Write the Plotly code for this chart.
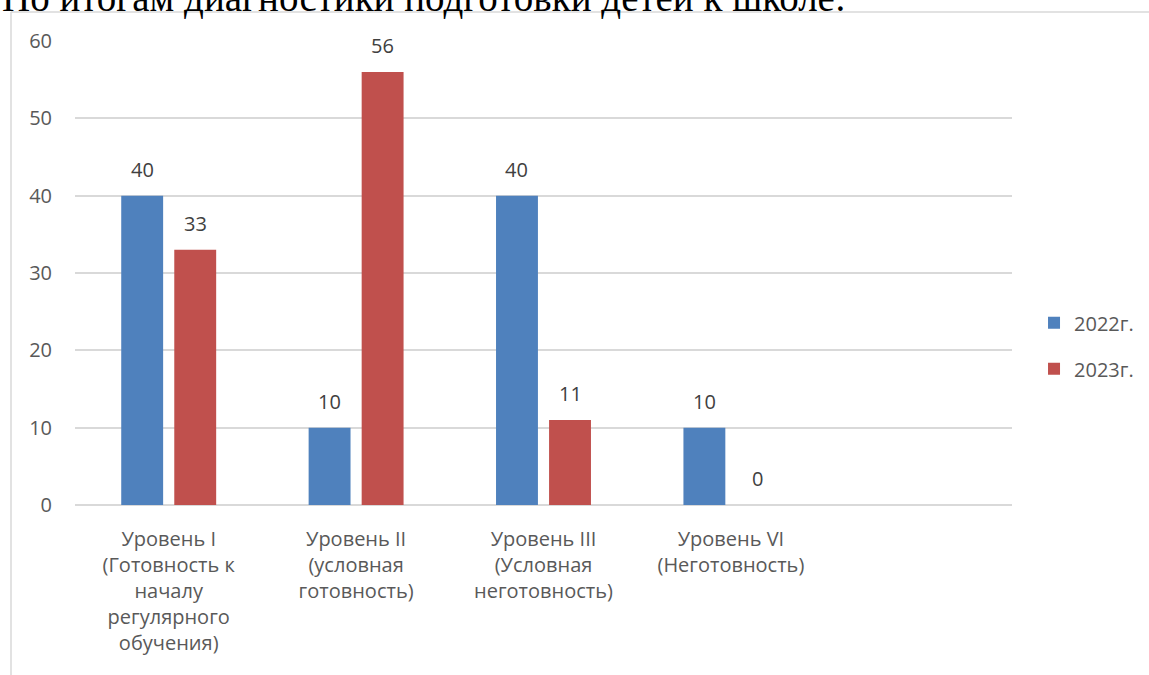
import plotly.graph_objects as go

categories = ["Уровень I (Готовность к началу регулярного обучения)",
              "Уровень II (условная готовность)",
              "Уровень III (Условная неготовность)",
              "Уровень VI (Неготовность)",
              ""]
tick_labels = ["Уровень I<br>(Готовность к<br>началу<br>регулярного<br>обучения)",
               "Уровень II<br>(условная<br>готовность)",
               "Уровень III<br>(Условная<br>неготовность)",
               "Уровень VI<br>(Неготовность)",
               ""]
values_2022 = [40, 10, 40, 10, None]
values_2023 = [33, 56, 11, 0, None]
series_names = ["2022г.", "2023г."]
title_text = "По итогам диагностики подготовки детей к школе:"

FONT = "Open Sans"
FS = 20
BARGAP = 0.434
fig = go.Figure()
series = [(series_names[0], values_2022, "#4F81BD"),
          (series_names[1], values_2023, "#C0504D")]
for name, vals, color in series:
    fig.add_trace(go.Bar(
        x=categories, y=vals, name=name,
        marker=dict(color=color, line=dict(width=0)),
        legendgroup=name,
    ))

# data labels above each bar
cat_px = 937 / len(categories)
slot_px = (1 - BARGAP) * cat_px / 2
for i, (name, vals, color) in enumerate(series):
    shift = (i - 0.5) * slot_px
    for c, v in zip(categories, vals):
        if v is None:
            continue
        fig.add_annotation(x=c, y=v, xref="x", yref="y", text=str(v),
                           showarrow=False, xshift=shift, yanchor="bottom", yshift=11,
                           font=dict(family=FONT, size=FS, color="#404040"))

fig.update_layout(
    width=1149, height=675,
    margin=dict(l=75, r=137, t=41, b=170, autoexpand=False),
    paper_bgcolor="white", plot_bgcolor="white",
    barmode="group", bargap=BARGAP, bargroupgap=0.21,
    showlegend=True,
    legend=dict(x=1.0235, y=0.343, xanchor="left", yanchor="middle",
                font=dict(family=FONT, size=FS, color="#595959"),
                tracegroupgap=17, traceorder="grouped"),
    xaxis=dict(tickvals=categories, ticktext=tick_labels, showgrid=False,
               showline=False, ticks="", tickfont=dict(family=FONT, size=FS, color="#595959"),
               tickangle=0, ticklabelstandoff=20, fixedrange=True, automargin=False),
    yaxis=dict(range=[0, 60], dtick=10, showgrid=True, gridcolor="#D9D9D9", gridwidth=1.5,
               zeroline=True, zerolinecolor="#D9D9D9", zerolinewidth=1.5,
               showline=False, ticks="", ticklabelstandoff=22, automargin=False,
               tickfont=dict(family=FONT, size=FS, color="#595959")),
    font=dict(family=FONT),
)

# chart frame (top and left borders visible)
fig.add_shape(type="line", xref="paper", yref="paper",
              x0=(11 - 75) / 937, x1=(1160 - 75) / 937,
              y0=(505 - 12) / 464, y1=(505 - 12) / 464,
              line=dict(color="#D9D9D9", width=1.5))
fig.add_shape(type="line", xref="paper", yref="paper",
              x0=(11 - 75) / 937, x1=(11 - 75) / 937,
              y0=(505 - 12) / 464, y1=(505 - 690) / 464,
              line=dict(color="#D9D9D9", width=1.5))

fig.add_annotation(text=title_text, xref="paper", yref="paper",
                   x=(0 - 75) / 937, y=(505 - 9) / 464, xanchor="left", yanchor="bottom",
                   showarrow=False, yshift=-12,
                   font=dict(family="Liberation Serif", size=39, color="black"))

fig.write_html("out.html", config={"displayModeBar": False},
               post_script="document.body.style.margin='0px';")
